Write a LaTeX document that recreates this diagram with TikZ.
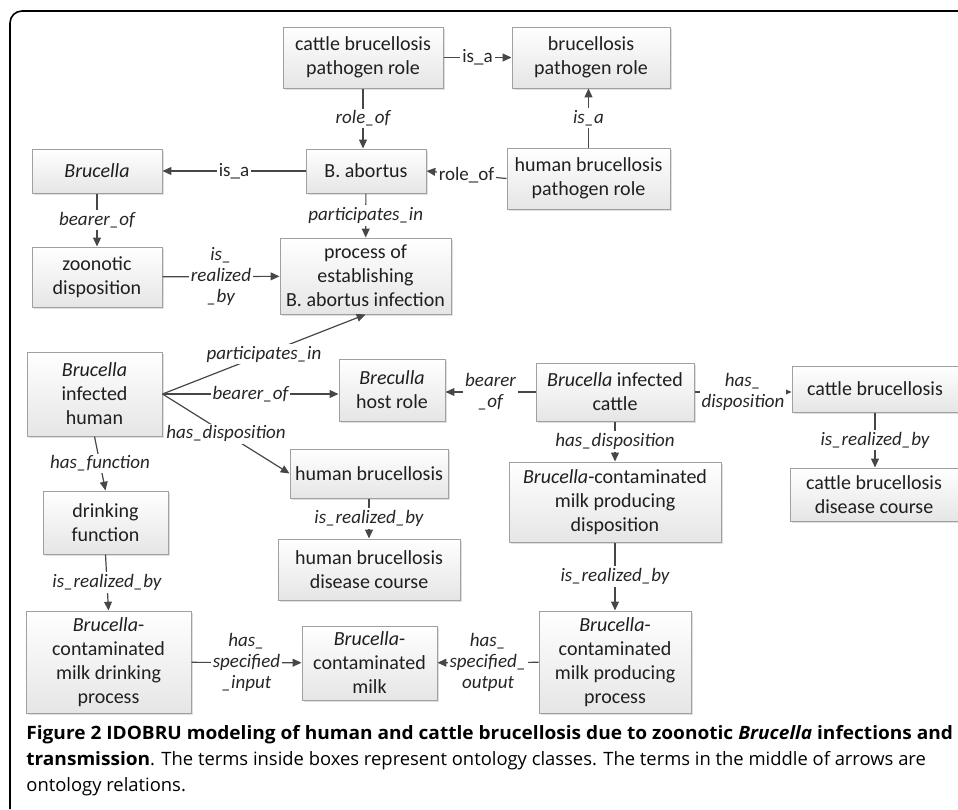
\documentclass[tikz,border=0pt]{standalone}
\usepackage{fontspec}
\setmainfont{Carlito}
\newfontfamily\capfont[BoldFeatures={FakeStretch=1.037}, BoldItalicFeatures={FakeStretch=1.037}]{Open Sans}
\usetikzlibrary{arrows.meta, shadows, calc}

\definecolor{boxline}{HTML}{A0A0A0}
\definecolor{linkgray}{HTML}{474747}

\tikzset{
  term/.style={draw=boxline, line width=0.5pt, top color=white, bottom color=gray!20,
    drop shadow={shadow xshift=0.8pt, shadow yshift=-0.8pt, opacity=0.25},
    inner sep=0pt, align=center, text=black!88, font=\fontsize{10}{12}\selectfont},
  rel/.style={fill=white, inner sep=1pt, align=center, text=black!85,
    font=\fontsize{9.5}{10.5}\selectfont\itshape},
  relup/.style={rel, font=\fontsize{9.5}{10.5}\selectfont\upshape},
  link/.style={draw=linkgray, line width=0.6pt, -{Triangle[length=4.4pt, width=3.9pt]}},
}

\begin{document}
\begin{tikzpicture}[x=0.5pt, y=-0.5pt]
\useasboundingbox (0,0) rectangle (958,809);

% frame
\draw[line width=0.8pt, rounded corners=6pt] (10,809) -- (10,11) -- (958,11);

% classes
\node[term, minimum width=80pt, minimum height=30.5pt] (cbpr) at (363, 57.5) {cattle brucellosis\\pathogen role};
\node[term, minimum width=79pt, minimum height=30.5pt] (bpr) at (591, 57.5) {brucellosis\\pathogen role};
\node[term, minimum width=81.5pt, minimum height=30.5pt] (hbpr) at (588.5, 178.5) {human brucellosis\\pathogen role};
\node[term, minimum width=60pt, minimum height=22pt] (babort) at (366, 171) {B. abortus};
\node[term, minimum width=65pt, minimum height=22pt] (brucella) at (97, 171) {\textit{Brucella}};
\node[term, minimum width=65pt, minimum height=30pt] (zoon) at (97, 277) {zoonotic\\disposition};
\node[term, minimum width=85.5pt, minimum height=38pt] (proc) at (365.5, 276) {process of\\establishing\\B. abortus infection};
\node[term, minimum width=67.5pt, minimum height=42pt] (bih) at (94.5, 394) {\textit{Brucella}\\infected\\human};
\node[term, minimum width=53pt, minimum height=31pt] (host) at (392, 390) {\textit{Breculla}\\host role};
\node[term, minimum width=79pt, minimum height=24.5pt] (hb) at (369, 473.5) {human brucellosis};
\node[term, minimum width=91pt, minimum height=30.5pt] (hbdc) at (369, 569.5) {human brucellosis\\disease course};
\node[term, minimum width=62.5pt, minimum height=31.5pt] (drink) at (105.5, 522.5) {drinking\\function};
\node[term, minimum width=82.5pt, minimum height=51pt] (drinkproc) at (108.5, 662) {\textit{Brucella}-\\contaminated\\milk drinking\\process};
\node[term, minimum width=67.5pt, minimum height=37pt] (milk) at (369.5, 663) {\textit{Brucella}-\\contaminated\\milk};
\node[term, minimum width=76pt, minimum height=51pt] (prodproc) at (615, 662) {\textit{Brucella}-\\contaminated\\milk producing\\process};
\node[term, minimum width=106pt, minimum height=40pt] (proddisp) at (615, 502) {\textit{Brucella}-contaminated\\milk producing\\disposition};
\node[term, minimum width=79pt, minimum height=29pt] (bic) at (615, 392) {\textit{Brucella} infected\\cattle};
\node[term, minimum width=83pt, minimum height=23pt] (cb) at (875, 389) {cattle brucellosis};
\node[term, minimum width=84pt, minimum height=26.5pt] (cbdc) at (874, 494.5) {cattle brucellosis\\disease course};

% relations
\draw[link] (cbpr) -- node[relup] {is\_a} (bpr);
\draw[link] (cbpr.south) -- node[rel] {role\_of} (cbpr.south |- babort.north);
\draw[link] (hbpr.north) -- node[rel] {is\_a} (hbpr.north |- bpr.south);
\draw[link] (hbpr.west) -- node[relup] {role\_of} (babort.east);
\draw[link] (babort) -- node[relup] {is\_a} (brucella);
\draw[link] (brucella) -- node[rel] {bearer\_of} (zoon);
\draw[link] (babort) -- node[rel] {participates\_in} (proc);
\draw[link] (zoon) -- node[rel] {is\_\\realized\\\_by} (proc);
\draw[link] (bih.east) -- node[rel] {participates\_in} (proc.south);
\draw[link] (bih.east) -- node[rel] {bearer\_of} (bih.east -| host.west);
\draw[link] (bih.east) -- node[rel] {has\_disposition} (hb.west);
\draw[link] (bic.west) -- node[rel] {bearer\\\_of} (bic.west -| host.east);
\draw[link] (bic.east) -- node[rel] {has\_\\disposition} (bic.east -| cb.west);
\draw[link] (bic) -- node[rel] {has\_disposition} (proddisp);
\draw[link] (cb.south) -- node[rel] {is\_realized\_by} (cb.south |- cbdc.north);
\draw[link] (hb) -- node[rel] {is\_realized\_by} (hbdc);
\draw[link] (bih.south) -- node[rel] {has\_function} (drink.north);
\draw[link] (drink.south) -- node[rel] {is\_realized\_by} (drinkproc.north);
\draw[link] (drinkproc) -- node[rel] {has\_\\specified\\\_input} (milk);
\draw[link] (prodproc) -- node[rel] {has\_\\specified\_\\output} (milk);
\draw[link] (proddisp) -- node[rel] {is\_realized\_by} (prodproc);

% caption
\node[anchor=base west, inner sep=0pt, font=\capfont\fontsize{9.2}{13}\selectfont] (cap1) at (26, 739)
  {\textbf{Figure 2 IDOBRU modeling of human and cattle brucellosis due to zoonotic \textit{Brucella} infections and}};
\node[anchor=base west, inner sep=0pt, font=\capfont\fontsize{9.2}{13}\selectfont] (cap2) at (26, 765)
  {\textbf{transmission}. The terms inside boxes represent ontology classes. The terms in the middle of arrows are};
\node[anchor=base west, inner sep=0pt, font=\capfont\fontsize{9.2}{13}\selectfont] (cap3) at (26, 791)
  {ontology relations.};
\end{tikzpicture}
\end{document}
